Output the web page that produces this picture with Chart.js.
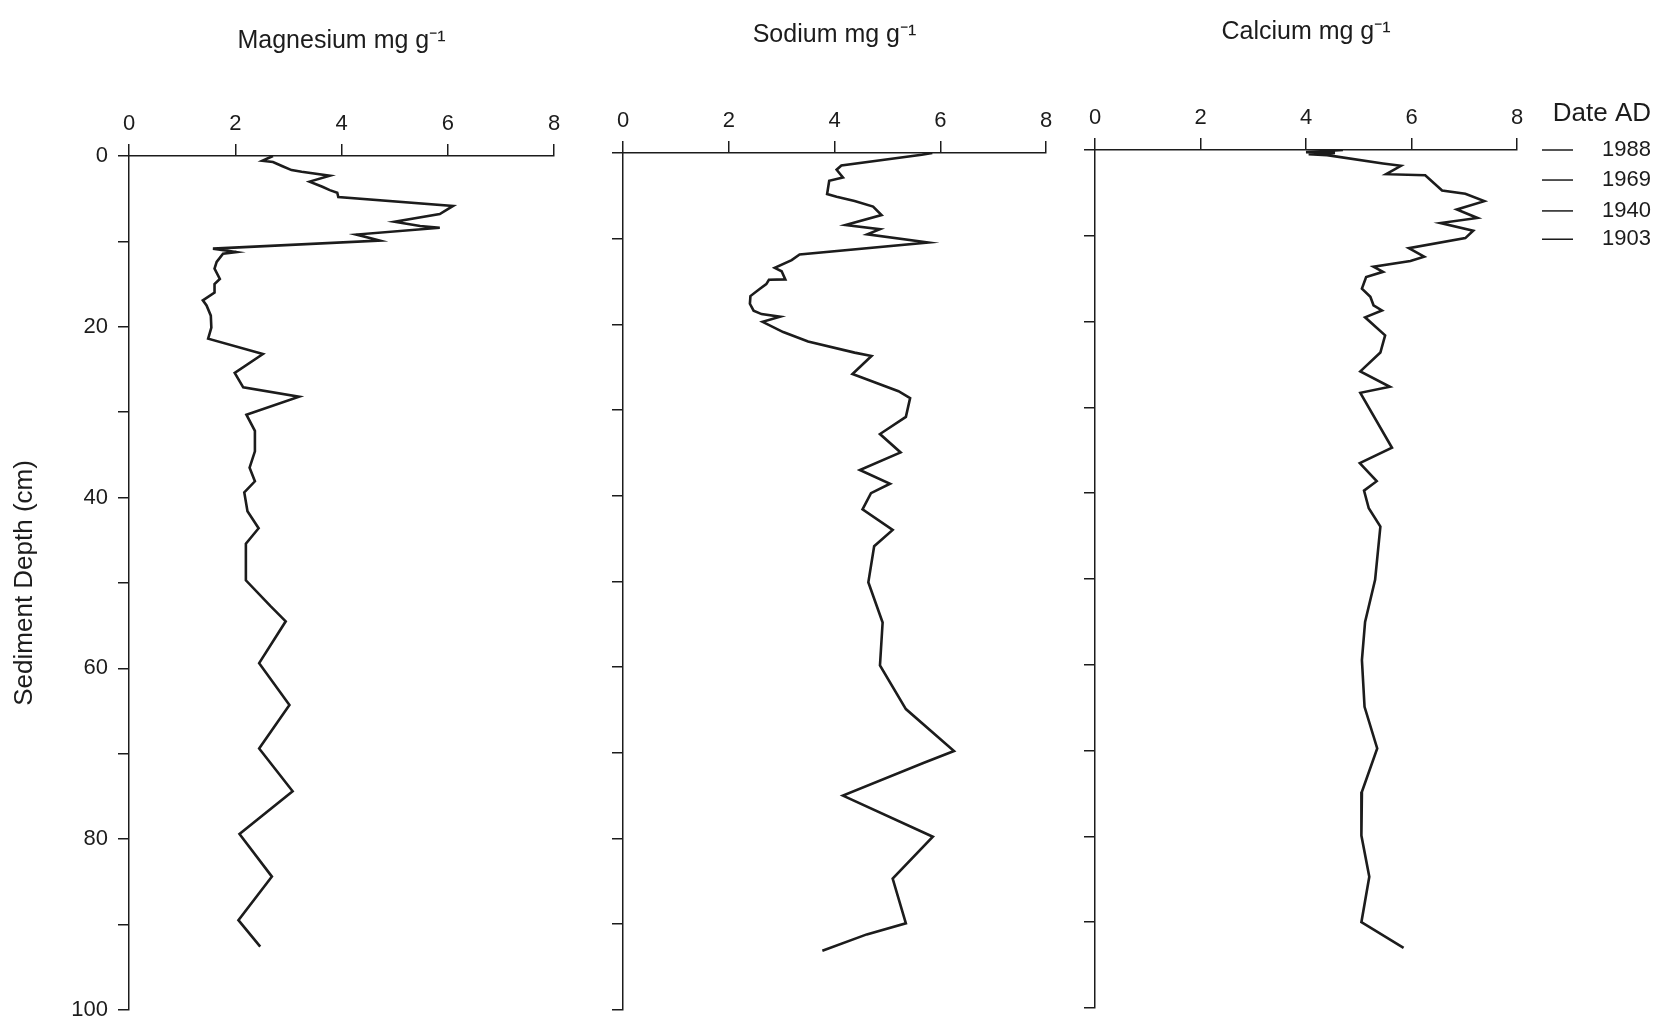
<!DOCTYPE html>
<html>
<head>
<meta charset="utf-8">
<title>Sediment core cation profiles</title>
<script src="https://cdn.jsdelivr.net/npm/chart.js@4.4.1/dist/chart.umd.min.js"></script>
<style>
  html, body { margin: 0; padding: 0; background: #ffffff; }
  body { width: 1660px; height: 1033px; position: relative; overflow: hidden; }
  .panel { position: absolute; top: 0; height: 1033px; }
</style>
</head>
<body>
<div class="panel" style="left:0px;width:600px"><canvas id="mgChart"></canvas></div>
<div class="panel" style="left:560px;width:520px"><canvas id="naChart"></canvas></div>
<div class="panel" style="left:1040px;width:620px"><canvas id="caChart"></canvas></div>

<script>
// ---- Core data: depth (cm) and concentration (mg g-1) ----
const mgDepth = [0.0, 0.55, 0.7, 1.2, 1.65, 1.85, 2.3, 3.0, 3.6, 4.0, 4.3, 4.8, 5.85, 6.8, 7.7, 8.2, 8.4, 9.2, 9.9,
  10.85, 11.25, 11.45, 12.4, 13.2, 14.4, 15.0, 16.0, 16.9, 17.5, 18.7, 20.1, 21.4, 23.2, 25.4, 27.1, 28.2, 30.3,
  32.2, 34.6, 36.5, 38.1, 39.4, 41.6, 43.6, 45.4, 49.7, 52.7, 54.5, 59.4, 64.3, 69.4, 74.4, 79.4, 84.4, 89.5, 92.6];
const mgValue = [2.71, 2.51, 2.71, 2.89, 3.06, 3.25, 3.78, 3.40, 3.64, 3.78, 3.92, 3.94, 6.10, 5.85, 5.00, 5.48, 5.85, 4.28, 4.72,
  1.58, 2.02, 1.77, 1.65, 1.61, 1.71, 1.61, 1.61, 1.39, 1.46, 1.54, 1.55, 1.49, 2.52, 1.99, 2.15, 3.20, 2.21,
  2.37, 2.37, 2.27, 2.37, 2.17, 2.23, 2.44, 2.20, 2.20, 2.66, 2.95, 2.45, 3.02, 2.45, 3.08, 2.08, 2.69, 2.06, 2.47];

const naDepth = [0.0, 0.2, 1.45, 1.95, 2.85, 3.25, 4.8, 5.1, 5.6, 6.25, 7.25, 8.4, 8.9, 9.5, 10.45, 11.85, 12.5,
  13.4, 13.8, 14.75, 14.8, 15.3, 15.85, 16.7, 17.6, 18.4, 18.8, 19.1, 19.7, 20.9, 22.0, 23.3, 23.7, 25.8, 27.8,
  28.6, 30.8, 32.8, 34.95, 37.0, 38.6, 39.7, 41.6, 44.0, 45.9, 50.1, 54.8, 59.8, 64.9, 69.8, 71.2, 75.0, 79.8,
  84.7, 89.9, 91.2, 93.1];
const naValue = [5.85, 5.65, 4.13, 4.04, 4.16, 3.90, 3.86, 4.04, 4.38, 4.73, 4.89, 4.21, 4.86, 4.62, 5.77, 3.34, 3.19,
  2.87, 3.00, 3.07, 2.76, 2.71, 2.59, 2.41, 2.40, 2.47, 2.62, 2.97, 2.64, 3.03, 3.50, 4.38, 4.70, 4.34, 5.21,
  5.43, 5.35, 4.86, 5.25, 4.48, 5.05, 4.69, 4.53, 5.10, 4.75, 4.64, 4.91, 4.86, 5.35, 6.26, 5.68, 4.16, 5.86,
  5.10, 5.35, 4.61, 3.77];

const caDepth = [0.0, 0.25, 0.35, 0.5, 0.6, 1.57, 1.84, 2.82, 2.94, 4.71, 5.1, 5.96, 6.94, 7.92, 8.51, 9.41, 10.27,
  11.45, 12.43, 12.94, 13.6, 14.2, 14.8, 16.16, 17.1, 18.1, 18.7, 19.5, 21.6, 23.6, 25.8, 27.6, 28.3, 34.7, 36.5,
  38.6, 39.7, 41.75, 43.9, 50.1, 55.0, 59.45, 64.9, 69.75, 74.8, 79.9, 84.7, 90.0, 93.0];
const caValue = [4.70, 4.00, 4.55, 4.05, 4.40, 5.46, 5.80, 5.52, 6.26, 6.58, 7.02, 7.38, 6.86, 7.25, 6.55, 7.17, 7.02,
  5.95, 6.24, 5.98, 5.28, 5.46, 5.14, 5.06, 5.22, 5.28, 5.44, 5.12, 5.50, 5.41, 5.03, 5.59, 5.03, 5.63, 5.02,
  5.34, 5.10, 5.19, 5.41, 5.31, 5.12, 5.06, 5.11, 5.35, 5.06, 5.05, 5.20, 5.05, 5.85];

// ---- Axis definitions ----
const concRange = [0, 8];          // mg g-1
const concStep = 2;
const depthRange = [0, 100];       // cm
const depthStep = 10;
const depthLabelEvery = 20;

// ---- Dated horizons ----
const dateTitle = 'Date AD';
const dateYears = ['1988', '1969', '1940', '1903'];
const dateDepths = [0, 3.5, 7.1, 10.4];

// ---- Styling ----
const INK = '#1c1c1c';
const FAMILY = '"Liberation Sans", Arial, Helvetica, sans-serif';

function profileChart(canvasId, cfg) {
  const points = cfg.depth.map((d, i) => ({ x: cfg.value[i], y: d }));
  return new Chart(document.getElementById(canvasId), {
    type: 'scatter',
    data: {
      datasets: [{
        data: points,
        showLine: true,
        borderColor: INK,
        borderWidth: 2.6,
        pointRadius: 0,
        pointHoverRadius: 0,
        fill: false,
        tension: 0
      }]
    },
    options: {
      responsive: true,
      maintainAspectRatio: false,
      animation: false,
      events: [],
      layout: { padding: cfg.padding },
      plugins: { legend: { display: false }, tooltip: { enabled: false } },
      scales: {
        x: {
          type: 'linear',
          position: 'top',
          min: concRange[0],
          max: concRange[1],
          ticks: { stepSize: concStep, color: INK, font: { family: FAMILY, size: 22 }, padding: 7, maxRotation: 0 },
          grid: { drawOnChartArea: false, drawTicks: true, tickLength: 12, color: INK, lineWidth: 1.5 },
          border: { color: INK, width: 1.5 },
          title: {
            display: true,
            text: cfg.title,
            color: INK,
            font: { family: FAMILY, size: 25 },
            padding: { top: cfg.titleTop, bottom: 0 }
          },
          afterFit: (scale) => { scale.height = cfg.top; }
        },
        y: {
          type: 'linear',
          position: 'left',
          reverse: true,
          min: depthRange[0],
          max: depthRange[1],
          ticks: {
            stepSize: depthStep,
            color: INK,
            font: { family: FAMILY, size: 22 },
            padding: 10,
            callback: (v) => (cfg.depthLabels && v % depthLabelEvery === 0) ? String(v) : ''
          },
          grid: { drawOnChartArea: false, drawTicks: true, tickLength: 11, color: INK, lineWidth: 1.5 },
          border: { color: INK, width: 1.5 },
          title: {
            display: !!cfg.depthTitle,
            text: cfg.depthTitle || '',
            color: INK,
            font: { family: FAMILY, size: 26 },
            padding: { top: 9, bottom: 0 }
          },
          afterFit: (scale) => { scale.width = cfg.left; }
        }
      }
    },
    plugins: cfg.plugins || []
  });
}

// Date AD scale drawn beside the calcium profile, positioned by its depth axis
const dateScalePlugin = {
  id: 'dateScale',
  afterDraw(chart) {
    const { ctx, chartArea } = chart;
    const yScale = chart.scales.y;
    const dashStart = chartArea.right + 25;
    const dashEnd = chartArea.right + 56;
    const textRight = chart.width - 9;
    ctx.save();
    ctx.fillStyle = INK;
    ctx.strokeStyle = INK;
    ctx.lineWidth = 1.5;
    ctx.textAlign = 'right';
    ctx.textBaseline = 'middle';
    ctx.font = '26px ' + FAMILY;
    ctx.fillText(dateTitle, textRight, chartArea.top - 36);
    ctx.font = '22px ' + FAMILY;
    dateDepths.forEach((d, i) => {
      const py = yScale.getPixelForValue(d);
      ctx.beginPath();
      ctx.moveTo(dashStart, py);
      ctx.lineTo(dashEnd, py);
      ctx.stroke();
      ctx.fillText(dateYears[i], textRight, py);
    });
    ctx.restore();
  }
};

profileChart('mgChart', {
  depth: mgDepth, value: mgValue,
  title: 'Magnesium mg g\u207B\u00B9',
  titleTop: 26, top: 156, left: 129,
  padding: { left: 0, right: 46, top: 0, bottom: 19 },
  depthLabels: true,
  depthTitle: 'Sediment Depth (cm)'
});

profileChart('naChart', {
  depth: naDepth, value: naValue,
  title: 'Sodium mg g\u207B\u00B9',
  titleTop: 20, top: 153, left: 63,
  padding: { left: 0, right: 34, top: 0, bottom: 22 },
  depthLabels: false
});

profileChart('caChart', {
  depth: caDepth, value: caValue,
  title: 'Calcium mg g\u207B\u00B9',
  titleTop: 17, top: 150, left: 55,
  padding: { left: 0, right: 143, top: 0, bottom: 25 },
  depthLabels: false,
  plugins: [dateScalePlugin]
});
</script>
</body>
</html>
